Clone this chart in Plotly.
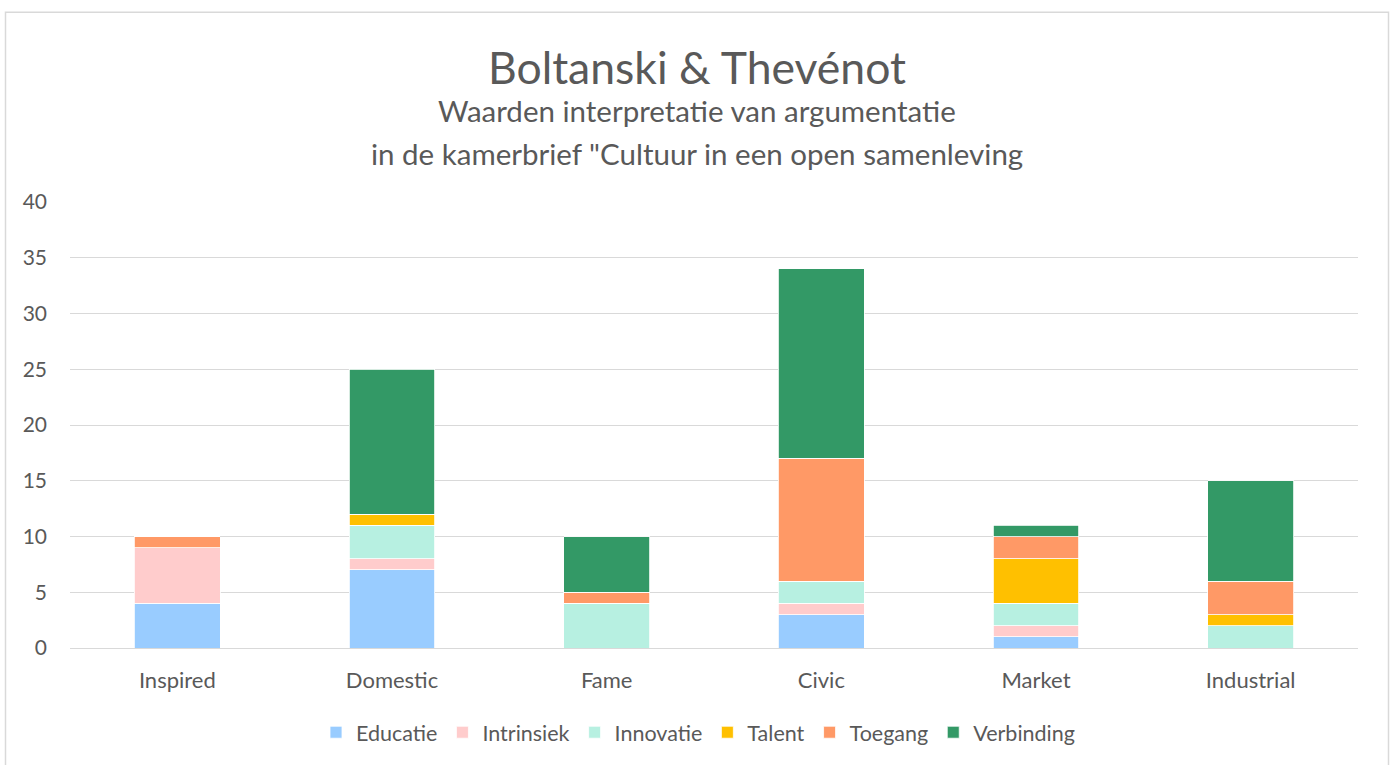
import plotly.graph_objects as go

categories = ["Inspired", "Domestic", "Fame", "Civic", "Market", "Industrial"]
educatie   = [4, 7, 0, 3, 1, 0]
intrinsiek = [5, 1, 0, 1, 1, 0]
innovatie  = [0, 3, 4, 2, 2, 2]
talent     = [0, 1, 0, 0, 4, 1]
toegang    = [1, 0, 1, 11, 2, 3]
verbinding = [0, 13, 5, 17, 1, 9]

series = [
    ("Educatie", educatie, "#99CCFF"),
    ("Intrinsiek", intrinsiek, "#FFCCCC"),
    ("Innovatie", innovatie, "#B7F0E1"),
    ("Talent", talent, "#FFC000"),
    ("Toegang", toegang, "#FF9966"),
    ("Verbinding", verbinding, "#339966"),
]

FONT = "Lato, 'Open Sans', sans-serif"
TXT = "#595959"

fig = go.Figure()
for name, vals, col in series:
    fig.add_trace(go.Bar(
        x=categories, y=vals, name=name,
        marker=dict(color=col, line=dict(color="white", width=0.8)),
        width=0.4,
    ))

W, H = 1395, 765
L, R, T, B = 70, 37, 202, 113
pw, ph = W - L - R, H - T - B

def px(x):
    return (x - L) / pw

def py(y):
    return (H - B - y) / ph

fig.update_layout(
    barmode="stack",
    width=W, height=H,
    margin=dict(l=L, r=R, t=T, b=B),
    paper_bgcolor="white", plot_bgcolor="white",
    font=dict(family=FONT, color=TXT, size=21),
    showlegend=True,
    legend=dict(orientation="h", x=px(698), xanchor="center", y=py(737), yanchor="middle",
                font=dict(size=21.5, color=TXT), traceorder="normal", itemwidth=30),
    xaxis=dict(showgrid=False, showline=True, linecolor="#D9D9D9", linewidth=1,
               tickfont=dict(size=22, color=TXT), ticks="", ticklabelstandoff=13),
    yaxis=dict(range=[0, 40], dtick=5, showgrid=True, gridcolor="#D9D9D9", gridwidth=1,
               zeroline=False, tickfont=dict(size=21, color=TXT), ticks="",
               ticklabelstandoff=22),
    annotations=[
        dict(text="Boltanski &amp; Thevénot", x=px(697), y=py(65), xref="paper", yref="paper",
             showarrow=False, font=dict(size=44.5, color=TXT, family=FONT), xanchor="center", yanchor="middle"),
        dict(text="Waarden interpretatie van argumentatie", x=px(697), y=py(110), xref="paper", yref="paper",
             showarrow=False, font=dict(size=29.5, color=TXT, family=FONT), xanchor="center", yanchor="middle"),
        dict(text="in de kamerbrief \"Cultuur in een open samenleving", x=px(697), y=py(153), xref="paper", yref="paper",
             showarrow=False, font=dict(size=29.5, color=TXT, family=FONT), xanchor="center", yanchor="middle"),
    ],
    shapes=[
        dict(type="rect", xref="paper", yref="paper", x0=px(5.5), x1=px(1388.5), y0=py(775), y1=py(10.5),
             line=dict(color="#D9D9D9", width=1.5), fillcolor="rgba(0,0,0,0)", layer="below"),
    ],
)

fig.write_html("out.html", config={"displayModeBar": False},
               post_script="document.body.style.margin='0px';document.body.style.overflow='hidden';")
